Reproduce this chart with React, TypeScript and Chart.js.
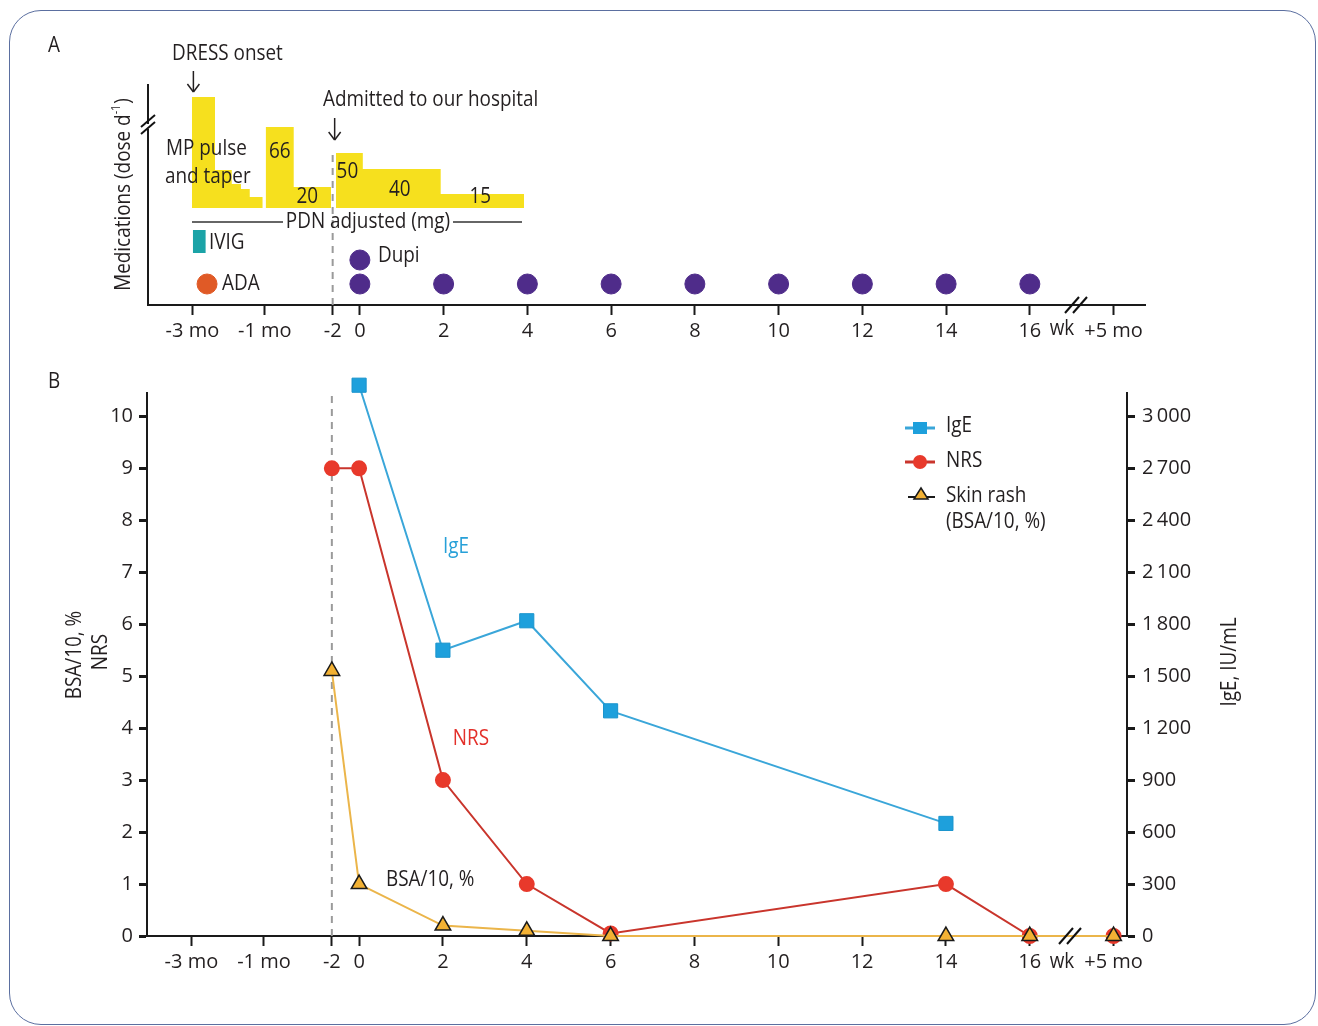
import React, { useEffect, useRef } from 'react';
import { Chart, registerables } from 'chart.js';

Chart.register(...registerables);

const FONT = "'Open Sans', 'Noto Sans', sans-serif";
const INK = '#231f20';
const W = 1318;
const H_A = 355;
const H_B = 671;
const B_TOP = 355;
const TEXT_SIZE = 21;
const TEXT_SX = 0.9;

// ---- time axis (non-linear: months before, weeks after admission) ----
const timeLabels = ['-3 mo', '-1 mo', '-2', '0', '2', '4', '6', '8', '10', '12', '14', '16', '+5 mo'];
const timeAxisPos = [-4, -2.27, -0.65, 0, 2, 4, 6, 8, 10, 12, 14, 16, 18];
const pos = (t: string) => timeAxisPos[timeLabels.indexOf(t)];

// ---- Panel A: medications ----
const dupiTimes = ['0', '2', '4', '6', '8', '10', '12', '14', '16'];
const dupiLoadingTimes = ['0'];
const adaAt = [-3.65];
const ivigSpan = [-3.99, -3.68];
// steroid steps: start positions on the time axis, end position, bar levels
const mpStarts = [-4.01, -3.46, -3.06, -2.84, -2.63];
const mpEnd = -2.32;
const mpLevels = [111, 38, 24, 19, 11];
const pdnPreStarts = [-2.25, -1.58];
const pdnPreEnd = -0.69;
const pdnPreLevels = [81, 21];
const pdnPreDoses = ['66', '20'];
const pdnStarts = [-0.57, 0.07, 1.93];
const pdnEnd = 3.92;
const pdnLevels = [55, 39, 14];
const pdnDoses = ['50', '40', '15'];

// ---- Panel B: outcomes ----
const nrsTimes = ['-2', '0', '2', '4', '6', '14', '16', '+5 mo'];
const nrsValues = [9, 9, 3, 1, 0.05, 1, 0, 0];
const rashTimes = ['-2', '0', '2', '4', '6', '14', '16', '+5 mo'];
const rashValues = [5.1, 1, 0.2, 0.1, 0, 0, 0, 0];
const igeTimes = ['0', '2', '4', '6', '14'];
const igeValues = [3180, 1650, 1820, 1300, 650];
const leftTicks = [0, 1, 2, 3, 4, 5, 6, 7, 8, 9, 10];
const rightTicks = [0, 300, 600, 900, 1200, 1500, 1800, 2100, 2400, 2700, 3000];

// layout constants for panel A rows (y units above the steroid baseline)
const ROW_DOSES = -76;
const ROW_LOADING = -52;
const ROW_IVIG_TOP = -22;
const ROW_IVIG_BOTTOM = -45;

const YELLOW = '#f6e01e';
const TEAL = '#1ba3a7';
const PURPLE = '#4f2c8a';
const ORANGE = '#e05a26';
const IGE_C = '#3aa6d9';
const IGE_M = '#1ea0dc';
const NRS_C = '#c9352c';
const NRS_M = '#e8392b';
const RASH_C = '#ebb54a';
const RASH_M = '#f2b134';

const stepData = (starts: number[], end: number, levels: number[]) => [
  ...starts.map((x, i) => ({ x, y: levels[i] })),
  { x: end, y: levels[levels.length - 1] },
];

const fmtThousands = (v: number) =>
  v >= 1000 ? `${Math.floor(v / 1000)}\u2009${String(v % 1000).padStart(3, '0')}` : String(v);

function txt(ctx: CanvasRenderingContext2D, s: string, x: number, y: number, align: CanvasTextAlign = 'left', color = INK, size = TEXT_SIZE) {
  ctx.save();
  ctx.translate(x, y);
  ctx.scale(TEXT_SX, 1);
  ctx.fillStyle = color;
  ctx.font = `${size}px ${FONT}`;
  ctx.textAlign = align;
  ctx.textBaseline = 'middle';
  ctx.fillText(s, 0, 0);
  ctx.restore();
}
function measure(ctx: CanvasRenderingContext2D, s: string, size = TEXT_SIZE) {
  ctx.font = `${size}px ${FONT}`;
  return ctx.measureText(s).width * TEXT_SX;
}
function vtxt(ctx: CanvasRenderingContext2D, s: string, x: number, y: number) {
  ctx.save();
  ctx.translate(x, y);
  ctx.rotate(-Math.PI / 2);
  txt(ctx, s, 0, 0, 'center');
  ctx.restore();
}
function line(ctx: CanvasRenderingContext2D, x1: number, y1: number, x2: number, y2: number, color = INK, w = 1.5) {
  ctx.strokeStyle = color;
  ctx.lineWidth = w;
  ctx.beginPath();
  ctx.moveTo(x1, y1);
  ctx.lineTo(x2, y2);
  ctx.stroke();
}
function arrowDown(ctx: CanvasRenderingContext2D, x: number, y1: number, y2: number) {
  line(ctx, x, y1, x, y2);
  line(ctx, x - 6, y2 - 8, x, y2);
  line(ctx, x + 6, y2 - 8, x, y2);
}
function breakMark(ctx: CanvasRenderingContext2D, cx: number, cy: number, dx: number) {
  line(ctx, cx - dx / 2 - 7, cy + 8, cx - dx / 2 + 7, cy - 8, '#111', 2);
  line(ctx, cx + dx / 2 - 7, cy + 8, cx + dx / 2 + 7, cy - 8, '#111', 2);
}

const xScale = (min: number, max: number) => ({
  type: 'linear' as const,
  min,
  max,
  afterBuildTicks: (s: any) => {
    s.ticks = timeAxisPos.map((v) => ({ value: v }));
  },
  afterFit: (s: any) => {
    s.height = 50;
  },
  ticks: {
    autoSkip: false,
    maxRotation: 0,
    padding: 4,
    color: INK,
    font: { family: FONT, size: 20 },
    callback: (_v: any, i: number) => timeLabels[i],
  },
  grid: { drawOnChartArea: false, drawTicks: true, tickLength: 10, tickWidth: 2, tickColor: '#1a1a1a' },
  border: { display: true, color: '#1a1a1a', width: 2 },
});

const annotA = {
  id: 'annotA',
  afterDraw(chart: any) {
    const ctx: CanvasRenderingContext2D = chart.ctx;
    const xs = chart.scales.x;
    ctx.save();
    txt(ctx, 'A', 54, 46, 'center');
    txt(ctx, 'DRESS onset', 172, 54);
    arrowDown(ctx, xs.getPixelForValue(pos('-3 mo')) + 1, 71, 92);
    txt(ctx, 'Admitted to our hospital', 323, 100);
    arrowDown(ctx, xs.getPixelForValue(pos('-2')) + 2, 118, 140);
    txt(ctx, 'MP pulse', 166, 149);
    txt(ctx, 'and taper', 165, 177);
    const preY = [152, 197];
    pdnPreDoses.forEach((d, i) => {
      const a = pdnPreStarts[i];
      const b = i + 1 < pdnPreStarts.length ? pdnPreStarts[i + 1] : pdnPreEnd;
      txt(ctx, d, xs.getPixelForValue((a + b) / 2) - (i === 1 ? 5 : 0), preY[i], 'center');
    });
    const postY = [172, 190, 197];
    pdnDoses.forEach((d, i) => {
      const a = pdnStarts[i];
      const b = i + 1 < pdnStarts.length ? pdnStarts[i + 1] : pdnEnd;
      txt(ctx, d, xs.getPixelForValue((a + b) / 2) - 2, postY[i], 'center');
    });
    // PDN bracket line
    line(ctx, 192, 222, 283, 222, '#333', 1.5);
    line(ctx, 453, 222, 522, 222, '#333', 1.5);
    txt(ctx, 'PDN adjusted (mg)', 368, 222, 'center');
    txt(ctx, 'IVIG', 209, 243);
    txt(ctx, 'ADA', 222, 284);
    txt(ctx, 'Dupi', 378, 256);
    txt(ctx, 'wk', 1062, 329, 'center');
    breakMark(ctx, 1076, 305, 8);
    // y axis break
    ctx.fillStyle = '#fff';
    ctx.fillRect(144, 124, 9, 5);
    line(ctx, 141, 127, 155, 115, '#111', 2);
    line(ctx, 141, 134, 155, 122, '#111', 2);
    // y title with superscript
    ctx.save();
    ctx.translate(124, 195);
    ctx.rotate(-Math.PI / 2);
    const p1 = 'Medications (dose d';
    const p3 = ')';
    const sup = '-1';
    const w1 = measure(ctx, p1);
    const w2 = measure(ctx, sup, 12);
    const w3 = measure(ctx, p3);
    const start = -(w1 + w2 + w3) / 2;
    txt(ctx, p1, start, 0, 'left');
    txt(ctx, sup, start + w1, -7, 'left', INK, 12);
    txt(ctx, p3, start + w1 + w2 + 1, 0, 'left');
    ctx.restore();
    ctx.restore();
  },
};

const annotB = {
  id: 'annotB',
  afterDraw(chart: any) {
    const ctx: CanvasRenderingContext2D = chart.ctx;
    const o = B_TOP;
    ctx.save();
    txt(ctx, 'B', 54, 382 - o, 'center');
    vtxt(ctx, 'BSA/10, %', 75, 655 - o);
    vtxt(ctx, 'NRS', 101, 652 - o);
    vtxt(ctx, 'IgE, IU/mL', 1230, 662 - o);
    txt(ctx, 'IgE', 456, 547 - o, 'center', '#27a0d8');
    txt(ctx, 'NRS', 471, 739 - o, 'center', '#e3302a');
    txt(ctx, 'BSA/10, %', 386, 880 - o, 'left');
    txt(ctx, 'wk', 1062, 962 - o, 'center');
    breakMark(ctx, 1070, 936 - o, 8);
    // legend
    const lx = 920;
    line(ctx, 905, 428 - o, 935, 428 - o, IGE_C, 3);
    ctx.fillStyle = IGE_M;
    ctx.fillRect(lx - 7, 428 - o - 6, 14, 12);
    txt(ctx, 'IgE', 946, 426 - o);
    line(ctx, 905, 462 - o, 935, 462 - o, NRS_C, 3);
    ctx.fillStyle = NRS_M;
    ctx.beginPath();
    ctx.arc(lx, 462 - o, 7, 0, Math.PI * 2);
    ctx.fill();
    txt(ctx, 'NRS', 946, 461 - o);
    line(ctx, 908, 497 - o, 935, 497 - o, '#1a1a1a', 2);
    ctx.fillStyle = RASH_M;
    ctx.strokeStyle = '#1a1a1a';
    ctx.lineWidth = 1.5;
    ctx.beginPath();
    ctx.moveTo(lx + 1, 488 - o);
    ctx.lineTo(lx + 8, 499 - o);
    ctx.lineTo(lx - 6, 499 - o);
    ctx.closePath();
    ctx.fill();
    ctx.stroke();
    txt(ctx, 'Skin rash', 946, 496 - o);
    txt(ctx, '(BSA/10, %)', 946, 522 - o);
    ctx.restore();
  },
};

export default function App() {
  const refA = useRef<HTMLCanvasElement>(null);
  const refB = useRef<HTMLCanvasElement>(null);

  useEffect(() => {
    const fillStep = (data: any[]) => ({
      data,
      stepped: 'before' as const,
      fill: 'origin',
      backgroundColor: YELLOW,
      borderColor: 'rgba(0,0,0,0)',
      borderWidth: 0,
      pointRadius: 0,
      clip: false as const,
      order: 5,
    });
    const chartA = new Chart(refA.current!, {
      type: 'line',
      data: {
        datasets: [
          fillStep(stepData(mpStarts, mpEnd, mpLevels)),
          fillStep(stepData(pdnPreStarts, pdnPreEnd, pdnPreLevels)),
          fillStep(stepData(pdnStarts, pdnEnd, pdnLevels)),
          {
            data: [
              { x: ivigSpan[0], y: ROW_IVIG_BOTTOM },
              { x: ivigSpan[1], y: ROW_IVIG_BOTTOM },
            ],
            fill: { value: ROW_IVIG_TOP },
            backgroundColor: TEAL,
            borderColor: 'rgba(0,0,0,0)',
            borderWidth: 0,
            pointRadius: 0,
            order: 4,
          } as any,
          {
            data: [
              { x: pos('-2'), y: -97 },
              { x: pos('-2'), y: 58 },
            ],
            borderColor: '#9a9a9a',
            borderWidth: 2,
            borderDash: [7, 6],
            pointRadius: 0,
            order: 6,
          },
          {
            data: dupiTimes.map((t) => ({ x: pos(t), y: ROW_DOSES })),
            showLine: false,
            pointRadius: 10,
            pointBackgroundColor: PURPLE,
            pointBorderColor: PURPLE,
            clip: false as const,
            order: 1,
          },
          {
            data: dupiLoadingTimes.map((t) => ({ x: pos(t), y: ROW_LOADING })),
            showLine: false,
            pointRadius: 10,
            pointBackgroundColor: PURPLE,
            pointBorderColor: PURPLE,
            order: 1,
          },
          {
            data: adaAt.map((x) => ({ x, y: ROW_DOSES })),
            showLine: false,
            pointRadius: 10,
            pointBackgroundColor: ORANGE,
            pointBorderColor: ORANGE,
            order: 1,
          },
        ],
      },
      options: {
        responsive: false,
        animation: false,
        events: [],
        layout: { padding: { left: 0, top: 85, right: 173, bottom: 0 } },
        plugins: { legend: { display: false }, tooltip: { enabled: false } },
        scales: {
          x: xScale(-5.06, 18.75) as any,
          y: {
            type: 'linear',
            min: -97,
            max: 123,
            afterFit: (s: any) => {
              s.width = 148;
            },
            ticks: { display: false },
            grid: { display: false },
            border: { display: true, color: '#1a1a1a', width: 2 },
          },
        },
      },
      plugins: [annotA],
    });

    const chartB = new Chart(refB.current!, {
      type: 'line',
      data: {
        datasets: [
          {
            label: 'Skin rash',
            data: rashTimes.map((t, i) => ({ x: pos(t), y: rashValues[i] })),
            yAxisID: 'y',
            borderColor: RASH_C,
            borderWidth: 2,
            pointStyle: 'triangle',
            pointRadius: 9,
            pointBackgroundColor: RASH_M,
            pointBorderColor: '#1a1a1a',
            pointBorderWidth: 1.5,
            clip: false as const,
            order: 1,
          },
          {
            label: 'NRS',
            data: nrsTimes.map((t, i) => ({ x: pos(t), y: nrsValues[i] })),
            yAxisID: 'y',
            borderColor: NRS_C,
            borderWidth: 2,
            pointStyle: 'circle',
            pointRadius: 7,
            pointBackgroundColor: NRS_M,
            pointBorderColor: NRS_M,
            clip: false as const,
            order: 2,
          },
          {
            label: 'IgE',
            data: igeTimes.map((t, i) => ({ x: pos(t), y: igeValues[i] })),
            yAxisID: 'y1',
            borderColor: IGE_C,
            borderWidth: 2,
            pointStyle: 'rect',
            pointRadius: 10,
            pointBackgroundColor: IGE_M,
            pointBorderColor: '#1b94cd',
            pointBorderWidth: 1,
            clip: false as const,
            order: 3,
          },
          {
            label: 'admission',
            data: [
              { x: pos('-2'), y: 0 },
              { x: pos('-2'), y: 10.42 },
            ],
            yAxisID: 'y',
            borderColor: '#9a9a9a',
            borderWidth: 2,
            borderDash: [7, 6],
            pointRadius: 0,
            order: 4,
          },
        ],
      },
      options: {
        responsive: false,
        animation: false,
        events: [],
        layout: { padding: { left: 0, top: 38, right: 0, bottom: 40 } },
        plugins: { legend: { display: false }, tooltip: { enabled: false } },
        scales: {
          x: xScale(-5.06, 18.32) as any,
          y: {
            type: 'linear',
            position: 'left',
            min: 0,
            max: 10.45,
            afterBuildTicks: (s: any) => {
              s.ticks = leftTicks.map((v) => ({ value: v }));
            },
            afterFit: (s: any) => {
              s.width = 147;
            },
            ticks: { padding: 6, color: INK, font: { family: FONT, size: 20 } },
            grid: { drawOnChartArea: false, tickLength: 8, tickWidth: 3, tickColor: '#1a1a1a' },
            border: { display: true, color: '#1a1a1a', width: 2 },
          },
          y1: {
            type: 'linear',
            position: 'right',
            min: 0,
            max: 3135,
            afterBuildTicks: (s: any) => {
              s.ticks = rightTicks.map((v) => ({ value: v }));
            },
            afterFit: (s: any) => {
              s.width = 191;
            },
            ticks: {
              padding: 7,
              color: INK,
              font: { family: FONT, size: 20 },
              callback: (v: any) => fmtThousands(Number(v)),
            },
            grid: { drawOnChartArea: false, tickLength: 8, tickWidth: 3, tickColor: '#1a1a1a' },
            border: { display: true, color: '#1a1a1a', width: 2 },
          },
        },
      },
      plugins: [annotB],
    });

    return () => {
      chartA.destroy();
      chartB.destroy();
    };
  }, []);

  return (
    <div style={{ position: 'absolute', left: 0, top: 0, width: W, height: 1026, background: '#fff', overflow: 'hidden' }}>
      <div
        style={{
          position: 'absolute',
          left: 9,
          top: 10,
          width: 1307,
          height: 1015,
          border: '1.5px solid #5b6fa0',
          borderRadius: 32,
          boxSizing: 'border-box',
        }}
      />
      <canvas ref={refA} width={W} height={H_A} style={{ position: 'absolute', left: 0, top: 0 }} />
      <canvas ref={refB} width={W} height={H_B} style={{ position: 'absolute', left: 0, top: B_TOP }} />
    </div>
  );
}
